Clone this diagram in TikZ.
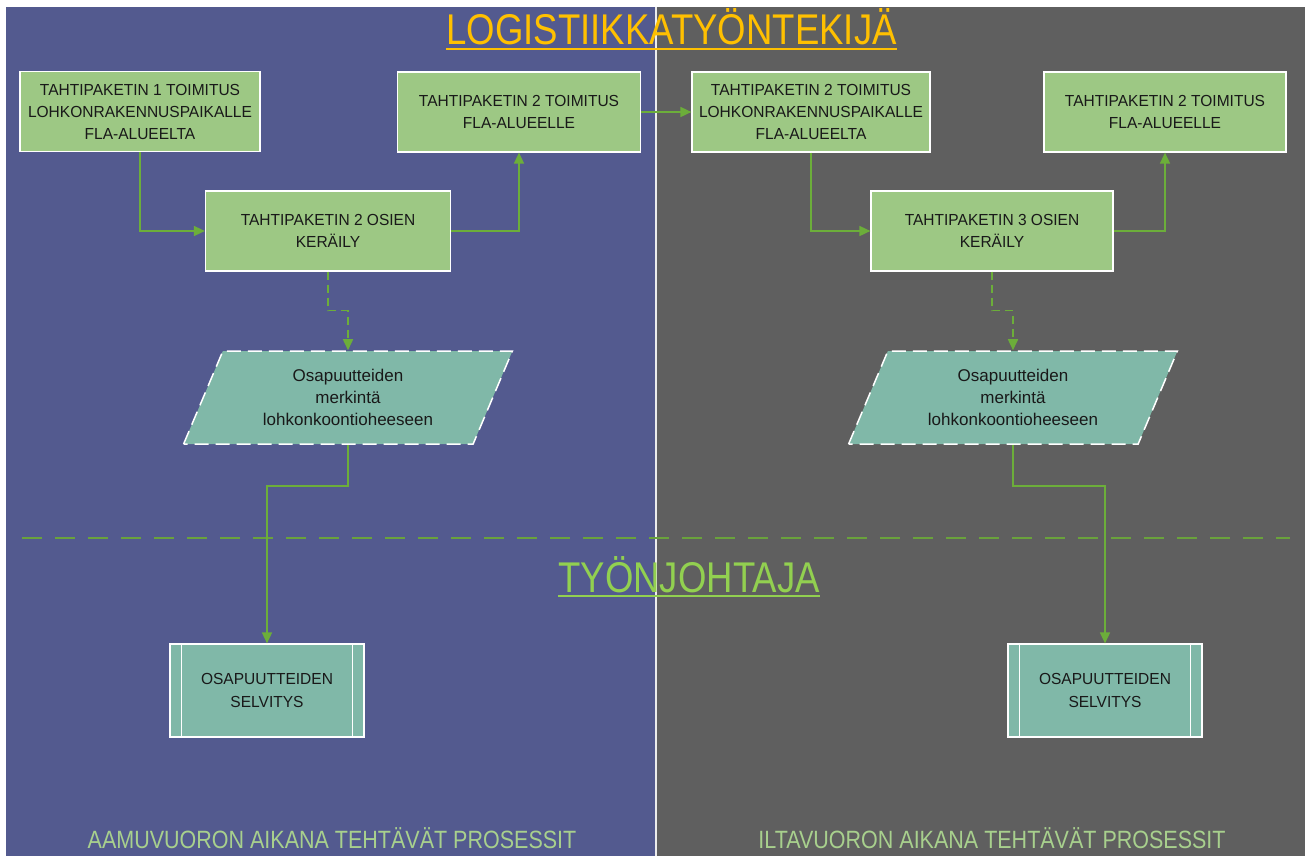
\documentclass[tikz,border=0pt]{standalone}
\usepackage{fontspec}
\setmainfont{Liberation Sans}
\newfontfamily\boxfont[FakeStretch=0.97]{Liberation Sans}
\newfontfamily\headfont[FakeStretch=0.85]{Liberation Sans}
\newfontfamily\footfont[FakeStretch=0.86]{Liberation Sans}
\usetikzlibrary{arrows.meta,shapes.geometric}

\definecolor{panelblue}{HTML}{535A8F}
\definecolor{panelgray}{HTML}{5F5F5F}
\definecolor{taskgreen}{HTML}{9DC884}
\definecolor{markteal}{HTML}{80B8A8}
\definecolor{flowgreen}{HTML}{6CAE3A}
\definecolor{laneline}{HTML}{6AA23C}
\definecolor{titleyellow}{HTML}{FFC000}
\definecolor{leadgreen}{HTML}{92D050}
\definecolor{footgreen}{HTML}{A8D08D}

\tikzset{
  task/.style={draw=white, line width=1.2pt, fill=taskgreen, minimum height=80pt,
    inner sep=0pt, align=center, text=black!90,
    font=\boxfont\fontsize{16}{22}\selectfont},
  markbox/.style={trapezium, trapezium left angle=64.7, trapezium right angle=115.3,
    trapezium stretches=true, minimum width=329pt, minimum height=93pt,
    draw=white, line width=1.5pt, dash pattern=on 14pt off 7pt, fill=markteal,
    inner sep=0pt, align=center, text=black!90, font=\fontsize{17}{22}\selectfont},
  subproc/.style={draw=white, line width=1.2pt, fill=markteal, minimum width=194pt,
    minimum height=93pt, inner sep=0pt, align=center, text=black!90,
    font=\boxfont\fontsize{16}{23}\selectfont},
  flow/.style={draw=flowgreen, line width=1.6pt, -{Triangle[length=11pt,width=10pt]}},
  flowdash/.style={flow, dash pattern=on 8pt off 5pt},
  headline/.style={anchor=base, inner sep=0pt, font=\headfont\fontsize{43}{50}\selectfont},
  footline/.style={anchor=base, inner sep=0pt, text=footgreen, font=\footfont\fontsize{25}{30}\selectfont}
}

\begin{document}
\begin{tikzpicture}[x=1pt,y=-1pt]
  % page and the two shift panels
  \fill[white] (0,0) rectangle (1305,857);
  \useasboundingbox (0,0) rectangle (1305,857);
  \fill[panelblue] (6,7) rectangle (656,856);
  \fill[panelgray] (656,7) rectangle (1305,856);
  \draw[white!85!gray, line width=1.5pt] (656,7) -- (656,856);

  % boundary between the two roles
  \draw[laneline, line width=2pt, dash pattern=on 20pt off 13pt] (22,538) -- (1290,538);

  % role headings
  \node[headline, text=titleyellow] (title) at (671.5,44) {LOGISTIIKKATYÖNTEKIJÄ};
  \draw[titleyellow, line width=2.5pt] ([yshift=-5pt]title.base west) -- ([yshift=-5pt]title.base east);
  \node[headline, text=leadgreen] (lead) at (689,592) {TYÖNJOHTAJA};
  \draw[leadgreen, line width=2.5pt] ([yshift=-4pt]lead.base west) -- ([yshift=-4pt]lead.base east);

  % morning shift
  \node[task, minimum width=240pt] (b1) at (140,111.5) {TAHTIPAKETIN 1 TOIMITUS\\LOHKONRAKENNUSPAIKALLE\\FLA-ALUEELTA};
  \node[task, minimum width=243pt] (b2) at (519,112) {TAHTIPAKETIN 2 TOIMITUS\\FLA-ALUEELLE};
  \node[task, minimum width=245pt] (b3) at (328,231) {TAHTIPAKETIN 2 OSIEN\\KERÄILY};
  \node[markbox] (p1) at (348,397.5) {Osapuutteiden\\merkintä\\lohkonkoontioheeseen};
  \node[subproc] (s1) at (267,690.5) {OSAPUUTTEIDEN\\SELVITYS};

  % evening shift
  \node[task, minimum width=238pt] (b4) at (811,112) {TAHTIPAKETIN 2 TOIMITUS\\LOHKONRAKENNUSPAIKALLE\\FLA-ALUEELTA};
  \node[task, minimum width=242pt] (b5) at (1165,112) {TAHTIPAKETIN 2 TOIMITUS\\FLA-ALUEELLE};
  \node[task, minimum width=242pt] (b6) at (992,231) {TAHTIPAKETIN 3 OSIEN\\KERÄILY};
  \node[markbox] (p2) at (1013,397.5) {Osapuutteiden\\merkintä\\lohkonkoontioheeseen};
  \node[subproc] (s2) at (1105,690.5) {OSAPUUTTEIDEN\\SELVITYS};

  % inner bars of the predefined-process boxes
  \foreach \s in {s1,s2} {
    \draw[white, line width=1.2pt] ([xshift=12pt]\s.north west) -- ([xshift=12pt]\s.south west);
    \draw[white, line width=1.2pt] ([xshift=-12pt]\s.north east) -- ([xshift=-12pt]\s.south east);
  }

  % connectors
  \draw[flow] (b1.south) |- (b3.west);
  \draw[flow] (b3.east) -| (b2.south);
  \draw[flow] (b2.east) -- (b4.west);
  \draw[flowdash] (b3.south) -- ++(0,39) -| (p1.center |- p1.north);
  \draw[flow] (p1.center |- p1.south) -- ++(0,41) -| (s1.north);

  \draw[flow] (b4.south) |- (b6.west);
  \draw[flow] (b6.east) -| (b5.south);
  \draw[flowdash] (b6.south) -- ++(0,39) -| (p2.center |- p2.north);
  \draw[flow] (p2.center |- p2.south) -- ++(0,41) -| (s2.north);

  % shift captions
  \node[footline] (f1) at (332,848) {AAMUVUORON AIKANA TEHTÄVÄT PROSESSIT};
  \node[footline] (f2) at (992,848) {ILTAVUORON AIKANA TEHTÄVÄT PROSESSIT};
\end{tikzpicture}
\end{document}
